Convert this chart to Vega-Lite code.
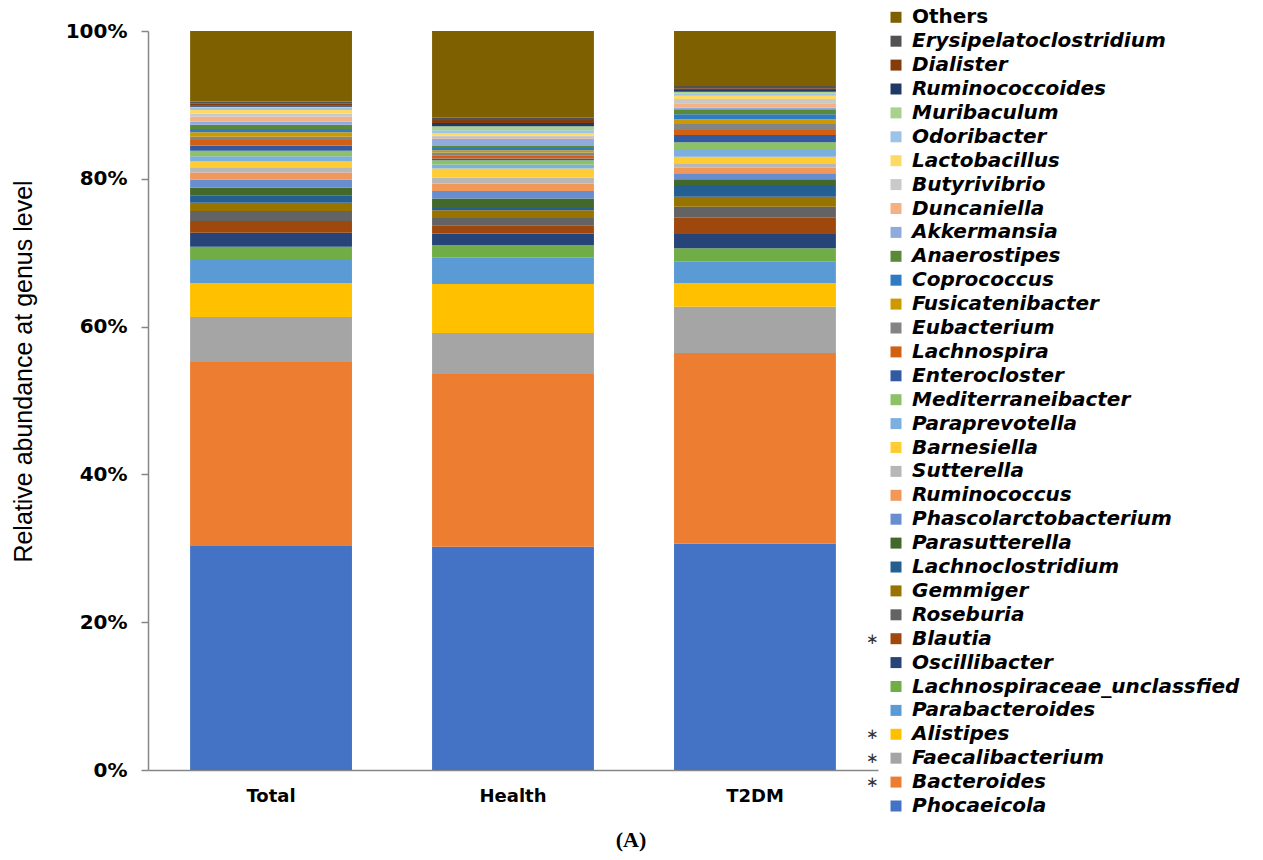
{
  "$schema": "https://vega.github.io/schema/vega-lite/v6.json",
  "width": 730,
  "height": 739,
  "autosize": {"type": "none"},
  "padding": {"left": 148, "top": 31, "right": 385, "bottom": 90},
  "background": "white",
  "config": {"view": {"stroke": null}, "font": "DejaVu Sans"},
  "title": {"text": "(A)", "orient": "bottom", "anchor": "middle", "font": "Liberation Serif", "fontSize": 22, "fontWeight": "bold", "color": "black", "offset": 14, "dx": 118},
  "datasets": {
    "abund": [
      {"group": "Total", "genus": "Phocaeicola", "v": 30.3},
      {"group": "Total", "genus": "Bacteroides", "v": 24.9},
      {"group": "Total", "genus": "Faecalibacterium", "v": 6.1},
      {"group": "Total", "genus": "Alistipes", "v": 4.6},
      {"group": "Total", "genus": "Parabacteroides", "v": 3.1},
      {"group": "Total", "genus": "Lachnospiraceae_unclassfied", "v": 1.8},
      {"group": "Total", "genus": "Oscillibacter", "v": 1.9},
      {"group": "Total", "genus": "Blautia", "v": 1.6},
      {"group": "Total", "genus": "Roseburia", "v": 1.35},
      {"group": "Total", "genus": "Gemmiger", "v": 1.1},
      {"group": "Total", "genus": "Lachnoclostridium", "v": 0.95},
      {"group": "Total", "genus": "Parasutterella", "v": 1.1},
      {"group": "Total", "genus": "Phascolarctobacterium", "v": 1.1},
      {"group": "Total", "genus": "Ruminococcus", "v": 0.95},
      {"group": "Total", "genus": "Sutterella", "v": 0.7},
      {"group": "Total", "genus": "Barnesiella", "v": 0.8},
      {"group": "Total", "genus": "Paraprevotella", "v": 0.7},
      {"group": "Total", "genus": "Mediterraneibacter", "v": 0.75},
      {"group": "Total", "genus": "Enterocloster", "v": 0.7},
      {"group": "Total", "genus": "Lachnospira", "v": 0.75},
      {"group": "Total", "genus": "Eubacterium", "v": 0.45},
      {"group": "Total", "genus": "Fusicatenibacter", "v": 0.6},
      {"group": "Total", "genus": "Coprococcus", "v": 0.45},
      {"group": "Total", "genus": "Anaerostipes", "v": 0.55},
      {"group": "Total", "genus": "Akkermansia", "v": 0.45},
      {"group": "Total", "genus": "Duncaniella", "v": 0.65},
      {"group": "Total", "genus": "Butyrivibrio", "v": 0.45},
      {"group": "Total", "genus": "Lactobacillus", "v": 0.45},
      {"group": "Total", "genus": "Odoribacter", "v": 0.3},
      {"group": "Total", "genus": "Muribaculum", "v": 0.15},
      {"group": "Total", "genus": "Ruminococcoides", "v": 0.2},
      {"group": "Total", "genus": "Dialister", "v": 0.2},
      {"group": "Total", "genus": "Erysipelatoclostridium", "v": 0.3},
      {"group": "Total", "genus": "Others", "v": 9.55},
      {"group": "Health", "genus": "Phocaeicola", "v": 30.2},
      {"group": "Health", "genus": "Bacteroides", "v": 23.4},
      {"group": "Health", "genus": "Faecalibacterium", "v": 5.55},
      {"group": "Health", "genus": "Alistipes", "v": 6.6},
      {"group": "Health", "genus": "Parabacteroides", "v": 3.55},
      {"group": "Health", "genus": "Lachnospiraceae_unclassfied", "v": 1.7},
      {"group": "Health", "genus": "Oscillibacter", "v": 1.6},
      {"group": "Health", "genus": "Blautia", "v": 1.12},
      {"group": "Health", "genus": "Roseburia", "v": 0.99},
      {"group": "Health", "genus": "Gemmiger", "v": 1.04},
      {"group": "Health", "genus": "Lachnoclostridium", "v": 0.31},
      {"group": "Health", "genus": "Parasutterella", "v": 1.27},
      {"group": "Health", "genus": "Phascolarctobacterium", "v": 1.03},
      {"group": "Health", "genus": "Ruminococcus", "v": 1.0},
      {"group": "Health", "genus": "Sutterella", "v": 0.81},
      {"group": "Health", "genus": "Barnesiella", "v": 1.22},
      {"group": "Health", "genus": "Paraprevotella", "v": 0.54},
      {"group": "Health", "genus": "Mediterraneibacter", "v": 0.58},
      {"group": "Health", "genus": "Enterocloster", "v": 0.23},
      {"group": "Health", "genus": "Lachnospira", "v": 0.45},
      {"group": "Health", "genus": "Eubacterium", "v": 0.36},
      {"group": "Health", "genus": "Fusicatenibacter", "v": 0.32},
      {"group": "Health", "genus": "Coprococcus", "v": 0.3},
      {"group": "Health", "genus": "Anaerostipes", "v": 0.27},
      {"group": "Health", "genus": "Akkermansia", "v": 1.0},
      {"group": "Health", "genus": "Duncaniella", "v": 0.22},
      {"group": "Health", "genus": "Butyrivibrio", "v": 0.2},
      {"group": "Health", "genus": "Lactobacillus", "v": 0.3},
      {"group": "Health", "genus": "Odoribacter", "v": 0.4},
      {"group": "Health", "genus": "Muribaculum", "v": 0.55},
      {"group": "Health", "genus": "Ruminococcoides", "v": 0.45},
      {"group": "Health", "genus": "Dialister", "v": 0.4},
      {"group": "Health", "genus": "Erysipelatoclostridium", "v": 0.3},
      {"group": "Health", "genus": "Others", "v": 11.74},
      {"group": "T2DM", "genus": "Phocaeicola", "v": 30.6},
      {"group": "T2DM", "genus": "Bacteroides", "v": 25.83},
      {"group": "T2DM", "genus": "Faecalibacterium", "v": 6.26},
      {"group": "T2DM", "genus": "Alistipes", "v": 3.17},
      {"group": "T2DM", "genus": "Parabacteroides", "v": 2.92},
      {"group": "T2DM", "genus": "Lachnospiraceae_unclassfied", "v": 1.82},
      {"group": "T2DM", "genus": "Oscillibacter", "v": 1.93},
      {"group": "T2DM", "genus": "Blautia", "v": 2.21},
      {"group": "T2DM", "genus": "Roseburia", "v": 1.48},
      {"group": "T2DM", "genus": "Gemmiger", "v": 1.36},
      {"group": "T2DM", "genus": "Lachnoclostridium", "v": 1.58},
      {"group": "T2DM", "genus": "Parasutterella", "v": 0.77},
      {"group": "T2DM", "genus": "Phascolarctobacterium", "v": 0.81},
      {"group": "T2DM", "genus": "Ruminococcus", "v": 0.76},
      {"group": "T2DM", "genus": "Sutterella", "v": 0.6},
      {"group": "T2DM", "genus": "Barnesiella", "v": 0.89},
      {"group": "T2DM", "genus": "Paraprevotella", "v": 1.04},
      {"group": "T2DM", "genus": "Mediterraneibacter", "v": 0.91},
      {"group": "T2DM", "genus": "Enterocloster", "v": 0.99},
      {"group": "T2DM", "genus": "Lachnospira", "v": 0.67},
      {"group": "T2DM", "genus": "Eubacterium", "v": 0.82},
      {"group": "T2DM", "genus": "Fusicatenibacter", "v": 0.63},
      {"group": "T2DM", "genus": "Coprococcus", "v": 0.68},
      {"group": "T2DM", "genus": "Anaerostipes", "v": 0.67},
      {"group": "T2DM", "genus": "Akkermansia", "v": 0.22},
      {"group": "T2DM", "genus": "Duncaniella", "v": 0.6},
      {"group": "T2DM", "genus": "Butyrivibrio", "v": 0.58},
      {"group": "T2DM", "genus": "Lactobacillus", "v": 0.44},
      {"group": "T2DM", "genus": "Odoribacter", "v": 0.33},
      {"group": "T2DM", "genus": "Muribaculum", "v": 0.22},
      {"group": "T2DM", "genus": "Ruminococcoides", "v": 0.23},
      {"group": "T2DM", "genus": "Dialister", "v": 0.23},
      {"group": "T2DM", "genus": "Erysipelatoclostridium", "v": 0.31},
      {"group": "T2DM", "genus": "Others", "v": 7.44}
    ],
    "legendnames": [
      {"g2": "Others"}, {"g2": "Erysipelatoclostridium"}, {"g2": "Dialister"}, {"g2": "Ruminococcoides"},
      {"g2": "Muribaculum"}, {"g2": "Odoribacter"}, {"g2": "Lactobacillus"}, {"g2": "Butyrivibrio"},
      {"g2": "Duncaniella"}, {"g2": "Akkermansia"}, {"g2": "Anaerostipes"}, {"g2": "Coprococcus"},
      {"g2": "Fusicatenibacter"}, {"g2": "Eubacterium"}, {"g2": "Lachnospira"}, {"g2": "Enterocloster"},
      {"g2": "Mediterraneibacter"}, {"g2": "Paraprevotella"}, {"g2": "Barnesiella"}, {"g2": "Sutterella"},
      {"g2": "Ruminococcus"}, {"g2": "Phascolarctobacterium"}, {"g2": "Parasutterella"}, {"g2": "Lachnoclostridium"},
      {"g2": "Gemmiger"}, {"g2": "Roseburia"}, {"g2": "Blautia"}, {"g2": "Oscillibacter"},
      {"g2": "Lachnospiraceae_unclassfied"}, {"g2": "Parabacteroides"}, {"g2": "Alistipes"}, {"g2": "Faecalibacterium"},
      {"g2": "Bacteroides"}, {"g2": "Phocaeicola"}
    ]
  },
  "layer": [
    {
      "data": {"name": "abund"},
      "transform": [
        {"calculate": "indexof(['Phocaeicola','Bacteroides','Faecalibacterium','Alistipes','Parabacteroides','Lachnospiraceae_unclassfied','Oscillibacter','Blautia','Roseburia','Gemmiger','Lachnoclostridium','Parasutterella','Phascolarctobacterium','Ruminococcus','Sutterella','Barnesiella','Paraprevotella','Mediterraneibacter','Enterocloster','Lachnospira','Eubacterium','Fusicatenibacter','Coprococcus','Anaerostipes','Akkermansia','Duncaniella','Butyrivibrio','Lactobacillus','Odoribacter','Muribaculum','Ruminococcoides','Dialister','Erysipelatoclostridium','Others'], datum.genus)", "as": "stackrank"}
      ],
      "mark": {"type": "bar"},
      "encoding": {
        "x": {
          "field": "group", "type": "nominal", "sort": ["Total", "Health", "T2DM"],
          "scale": {"paddingInner": 0.331, "paddingOuter": 0.174},
          "axis": {"title": null, "ticks": false, "tickSize": 0, "domainColor": "#868686", "domainWidth": 1.5, "labelAngle": 0, "labelFont": "DejaVu Sans", "labelFontWeight": "bold", "labelFontSize": 18, "labelColor": "black", "labelPadding": 17}
        },
        "y": {
          "field": "v", "type": "quantitative", "stack": "normalize",
          "axis": {"title": "Relative abundance at genus level", "format": ".0%", "values": [0, 0.2, 0.4, 0.6, 0.8, 1], "grid": false, "domainColor": "#868686", "domainWidth": 1.5, "tickColor": "#868686", "tickWidth": 1.5, "tickSize": 7, "labelFont": "DejaVu Sans", "labelFontWeight": "bold", "labelFontSize": 20, "labelColor": "black", "labelPadding": 14, "titleFont": "Liberation Sans", "titleFontSize": 25, "titleFontWeight": "normal", "titleColor": "black", "titleX": -125, "titleY": 340, "titleAngle": 270, "titleBaseline": "middle", "titleAlign": "center"}
        },
        "order": {"field": "stackrank", "type": "quantitative", "sort": "ascending"},
        "color": {
          "field": "genus", "type": "nominal",
          "scale": {
            "domain": ["Phocaeicola", "Bacteroides", "Faecalibacterium", "Alistipes", "Parabacteroides", "Lachnospiraceae_unclassfied", "Oscillibacter", "Blautia", "Roseburia", "Gemmiger", "Lachnoclostridium", "Parasutterella", "Phascolarctobacterium", "Ruminococcus", "Sutterella", "Barnesiella", "Paraprevotella", "Mediterraneibacter", "Enterocloster", "Lachnospira", "Eubacterium", "Fusicatenibacter", "Coprococcus", "Anaerostipes", "Akkermansia", "Duncaniella", "Butyrivibrio", "Lactobacillus", "Odoribacter", "Muribaculum", "Ruminococcoides", "Dialister", "Erysipelatoclostridium", "Others"],
            "range": ["#4472C4", "#ED7D31", "#A5A5A5", "#FFC000", "#5B9BD5", "#70AD47", "#264478", "#9E480E", "#636363", "#997300", "#255E91", "#43682B", "#698ED0", "#F1975A", "#B7B7B7", "#FFCD33", "#7CAFDD", "#8CC168", "#335AA1", "#D26012", "#848484", "#CC9A00", "#2E7BC4", "#5A8A39", "#8FAADC", "#F4B183", "#C9C9C9", "#FFD966", "#9DC3E6", "#A9D18E", "#203864", "#843C0C", "#525252", "#7F6000"]
          },
          "legend": {
            "orient": "none", "legendX": 738, "legendY": -23.7, "title": null,
            "values": ["Others", "Erysipelatoclostridium", "Dialister", "Ruminococcoides", "Muribaculum", "Odoribacter", "Lactobacillus", "Butyrivibrio", "Duncaniella", "Akkermansia", "Anaerostipes", "Coprococcus", "Fusicatenibacter", "Eubacterium", "Lachnospira", "Enterocloster", "Mediterraneibacter", "Paraprevotella", "Barnesiella", "Sutterella", "Ruminococcus", "Phascolarctobacterium", "Parasutterella", "Lachnoclostridium", "Gemmiger", "Roseburia", "Blautia", "Oscillibacter", "Lachnospiraceae_unclassfied", "Parabacteroides", "Alistipes", "Faecalibacterium", "Bacteroides", "Phocaeicola"],
            "symbolLimit": 50,
            "symbolType": "square", "symbolSize": 121, "symbolStrokeWidth": 0, "symbolOpacity": 1,
            "labelFont": "DejaVu Sans", "labelFontSize": 20, "labelFontWeight": "bold", "labelColor": "black",
            "labelOffset": 6, "rowPadding": 3.9, "padding": 0, "labelLimit": 400,
            "encoding": {"labels": {"fontStyle": {"condition": {"test": "datum.label === 'Others'", "value": "normal"}, "value": "italic"}}}
          }
        }
      }
    },
    {
      "data": {"name": "legendnames"},
      "mark": {"type": "point", "opacity": 0},
      "encoding": {
        "shape": {
          "field": "g2", "type": "nominal",
          "scale": {
            "domain": ["Others", "Erysipelatoclostridium", "Dialister", "Ruminococcoides", "Muribaculum", "Odoribacter", "Lactobacillus", "Butyrivibrio", "Duncaniella", "Akkermansia", "Anaerostipes", "Coprococcus", "Fusicatenibacter", "Eubacterium", "Lachnospira", "Enterocloster", "Mediterraneibacter", "Paraprevotella", "Barnesiella", "Sutterella", "Ruminococcus", "Phascolarctobacterium", "Parasutterella", "Lachnoclostridium", "Gemmiger", "Roseburia", "Blautia", "Oscillibacter", "Lachnospiraceae_unclassfied", "Parabacteroides", "Alistipes", "Faecalibacterium", "Bacteroides", "Phocaeicola"],
            "range": ["square"]
          },
          "legend": {
            "orient": "none", "legendX": 698, "legendY": -23.7, "title": null,
            "symbolLimit": 50,
            "symbolSize": 400, "symbolOpacity": 0, "symbolStrokeWidth": 0,
            "labelFont": "DejaVu Sans", "labelFontSize": 15, "labelFontWeight": "normal", "labelColor": "#333333",
            "labelOffset": 0, "rowPadding": 3.9, "padding": 0,
            "labelExpr": "indexof(['Blautia','Alistipes','Faecalibacterium','Bacteroides'], datum.label) >= 0 ? '∗' : ' '"
          }
        }
      }
    }
  ]
}
